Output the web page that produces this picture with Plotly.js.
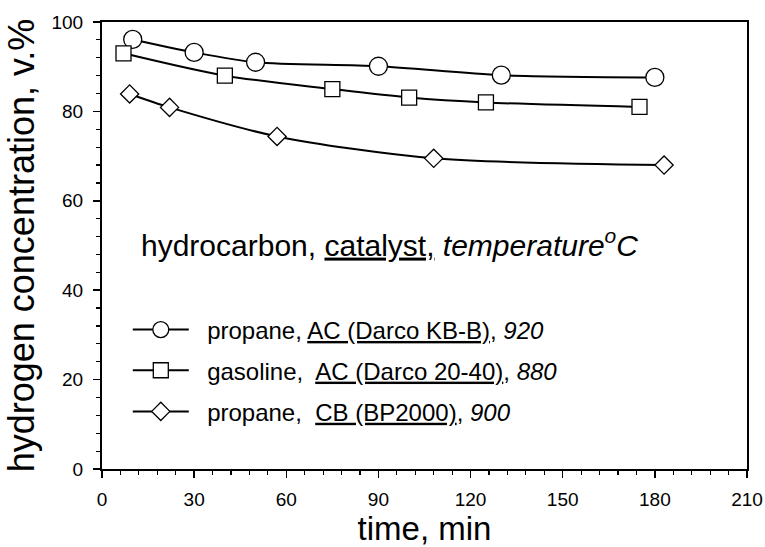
<!DOCTYPE html>
<html>
<head>
<meta charset="utf-8">
<script src="https://cdn.plot.ly/plotly-3.0.1.min.js"></script>
<style>html,body{margin:0;padding:0;background:#fff;}#chart{width:765px;height:547px;}</style>
</head>
<body>
<div id="chart"></div>
<script>
// Data
const propaneKBB_time = [10, 30, 50, 90, 130, 180];
const propaneKBB_h2   = [96.1, 93.2, 91.0, 90.1, 88.1, 87.6];
const gasoline2040_time = [7, 40, 75, 100, 125, 175];
const gasoline2040_h2   = [93.0, 88.0, 85.0, 83.1, 82.0, 81.0];
const propaneBP_time = [9, 22, 57, 108, 183];
const propaneBP_h2   = [83.9, 80.9, 74.4, 69.5, 68.0];

const seriesNames = [
  '&nbsp;&nbsp;propane, <u>AC (Darco KB-B)</u>, <i>920</i>',
  '&nbsp;&nbsp;gasoline,&nbsp; <u>AC (Darco 20-40)</u>, <i>880</i>',
  '&nbsp;&nbsp;propane,&nbsp; <u>CB (BP2000)</u>, <i>900</i>'
];
const headerText = 'hydrocarbon, <u>catalyst,</u> <i>temperature<sup>o</sup>C</i>';
const xTitle = 'time, min';
const yTitle = 'hydrogen concentration, v.%';

const FONT = 'Liberation Sans, Arial, Helvetica, sans-serif';
const lineStyle = {color: '#000', width: 2, shape: 'spline', smoothing: 0.8};
const mk = (sym, size) => ({symbol: sym, size: size, color: '#fff', line: {color: '#000', width: 1.3}});

const traces = [
  {x: propaneKBB_time, y: propaneKBB_h2, name: seriesNames[0], mode: 'lines+markers',
   line: lineStyle, marker: mk('circle', 18), legend: 'legend'},
  {x: gasoline2040_time, y: gasoline2040_h2, name: seriesNames[1], mode: 'lines+markers',
   line: lineStyle, marker: mk('square', 15), legend: 'legend2'},
  {x: propaneBP_time, y: propaneBP_h2, name: seriesNames[2], mode: 'lines+markers',
   line: lineStyle, marker: mk('diamond', 14), legend: 'legend3'}
];

const legendBase = {
  x: 0.04, xanchor: 'left', yanchor: 'middle',
  bgcolor: 'rgba(0,0,0,0)', borderwidth: 0,
  font: {family: FONT, size: 24, color: '#000'},
  itemwidth: 56, itemsizing: 'trace'
};

const layout = {
  width: 765, height: 547,
  margin: {l: 102, r: 18, t: 22, b: 78},
  paper_bgcolor: '#fff', plot_bgcolor: '#fff',
  font: {family: FONT, color: '#000'},
  showlegend: true,
  legend:  Object.assign({}, legendBase, {y: 0.311}),
  legend2: Object.assign({}, legendBase, {y: 0.220}),
  legend3: Object.assign({}, legendBase, {y: 0.128}),
  xaxis: {
    range: [0, 210], dtick: 30, tick0: 0,
    ticks: 'outside', ticklen: 7, tickwidth: 1.5, tickcolor: '#000',
    minor: {dtick: 6, ticks: 'outside', ticklen: 4, tickwidth: 1.2, tickcolor: '#000'},
    showline: true, linewidth: 2, linecolor: '#000', mirror: true,
    showgrid: false, zeroline: false, ticklabelstandoff: 5,
    tickfont: {family: FONT, size: 19, color: '#000'},
    title: {text: xTitle, font: {family: FONT, size: 33, color: '#000'}, standoff: 10}
  },
  yaxis: {
    range: [0, 100], dtick: 20, tick0: 0,
    ticks: 'outside', ticklen: 7, tickwidth: 1.5, tickcolor: '#000',
    minor: {dtick: 4, ticks: 'outside', ticklen: 4, tickwidth: 1.2, tickcolor: '#000'},
    showline: true, linewidth: 2, linecolor: '#000', mirror: true,
    showgrid: false, zeroline: false, ticklabelstandoff: 6,
    tickfont: {family: FONT, size: 19, color: '#000'},
    title: {text: yTitle, font: {family: FONT, size: 36, color: '#000'}, standoff: 6}
  },
  annotations: [{
    text: headerText, xref: 'paper', yref: 'paper', x: 0.4456, y: 0.506,
    xanchor: 'center', yanchor: 'middle', showarrow: false,
    font: {family: FONT, size: 30, color: '#000'}
  }]
};

Plotly.newPlot('chart', traces, layout, {displayModeBar: false, staticPlot: true});
</script>
</body>
</html>
